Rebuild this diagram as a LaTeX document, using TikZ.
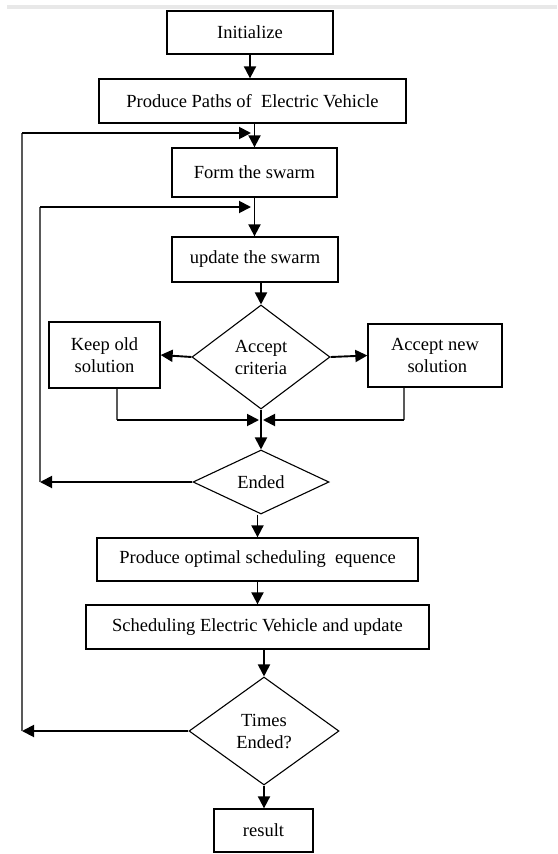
\documentclass[tikz,border=0pt]{standalone}
\usepackage{fontspec}
\setmainfont{Liberation Serif}
\usetikzlibrary{arrows.meta,shapes.geometric}
\begin{document}
\begin{tikzpicture}[x=1pt,y=-1pt,
  every node/.style={font=\fontsize{18.5}{22}\selectfont, inner sep=0pt, align=center},
  box/.style={draw, line width=1.3pt, rectangle},
  dia/.style={draw, line width=1.1pt, diamond, aspect=#1},
  arr/.style={line width=1.9pt, -{Triangle[length=12pt,width=12pt]}},
  fb/.style={line width=1.3pt, draw=black!65}]
\useasboundingbox (0,0) rectangle (557,854);
\fill[black!9] (7,5) rectangle (557,9);
% nodes
\node[box, minimum width=166pt, minimum height=43pt] (init) at (250,32.5) {Initialize};
\node[box, minimum width=307pt, minimum height=44pt] (paths) at (252.5,101) {Produce Paths of\ \ Electric Vehicle};
\node[box, minimum width=165pt, minimum height=49pt] (form) at (254.5,172.5) {Form the swarm};
\node[box, minimum width=166pt, minimum height=45pt] (update) at (255,259.5) {update the swarm};
\node[dia=1.33, minimum width=138pt, minimum height=104pt] (accept) at (261,357) {Accept\\criteria};
\node[box, minimum width=111pt, minimum height=66pt] (keep) at (104.5,355) {Keep old\\solution};
\node[box, minimum width=134pt, minimum height=63pt] (new) at (435,355.5) {Accept new\\\ solution};
\node[dia=2.1, minimum width=136pt, minimum height=64pt] (ended) at (261,482) {Ended};
\node[box, minimum width=321pt, minimum height=43pt] (optimal) at (257.5,559.5) {Produce optimal scheduling\ \ equence};
\node[box, minimum width=343pt, minimum height=44pt] (sched) at (257.5,627) {Scheduling Electric Vehicle and update};
\node[dia=1.39, minimum width=150pt, minimum height=108pt] (times) at (264,731) {Times\\Ended?};
\node[box, minimum width=99pt, minimum height=43pt] (result) at (263.5,830.5) {result};
% helper coordinates
\coordinate (o1) at (22,731);
\coordinate (o2) at (251,133);
\coordinate (i1) at (40,482);
\coordinate (i2) at (251,207);
\coordinate (m1) at (259,420);
\coordinate (m2) at (263,420);
% main flow
\draw[arr] (init.south) -- (init.south |- paths.north);
\draw[arr] (paths.south -| form.north) -- (form.north);
\draw[arr] (form.south) -- (form.south |- update.north);
\draw[arr] (update.south -| accept.north) -- (accept.north);
\draw[arr] (accept.west) -- (keep.east);
\draw[arr] (accept.east) -- (new.west);
\draw[arr] (accept.south) -- (ended.north);
\draw[fb] ([xshift=12.5pt]keep.south) -- ([xshift=12.5pt]keep.south |- m1);
\draw[arr] ([xshift=12.5pt]keep.south |- m1) -- (m1);
\draw[fb] ([xshift=-31pt]new.south) -- ([xshift=-31pt]new.south |- m2);
\draw[arr] ([xshift=-31pt]new.south |- m2) -- (m2);
\draw[arr] (ended.south -| optimal.north) -- (optimal.north);
\draw[arr] (optimal.south) -- (optimal.south |- sched.north);
\draw[arr] (sched.south -| times.north) -- (times.north);
\draw[arr] (times.south) -- (times.south |- result.north);
% feedback loops
\draw[arr] (ended.west) -- (i1);
\draw[fb] (i1) -- (i1 |- i2);
\draw[arr] (i1 |- i2) -- (i2);
\draw[arr] (times.west) -- (o1);
\draw[fb] (o1) -- (o1 |- o2);
\draw[arr] (o1 |- o2) -- (o2);
\end{tikzpicture}
\end{document}
